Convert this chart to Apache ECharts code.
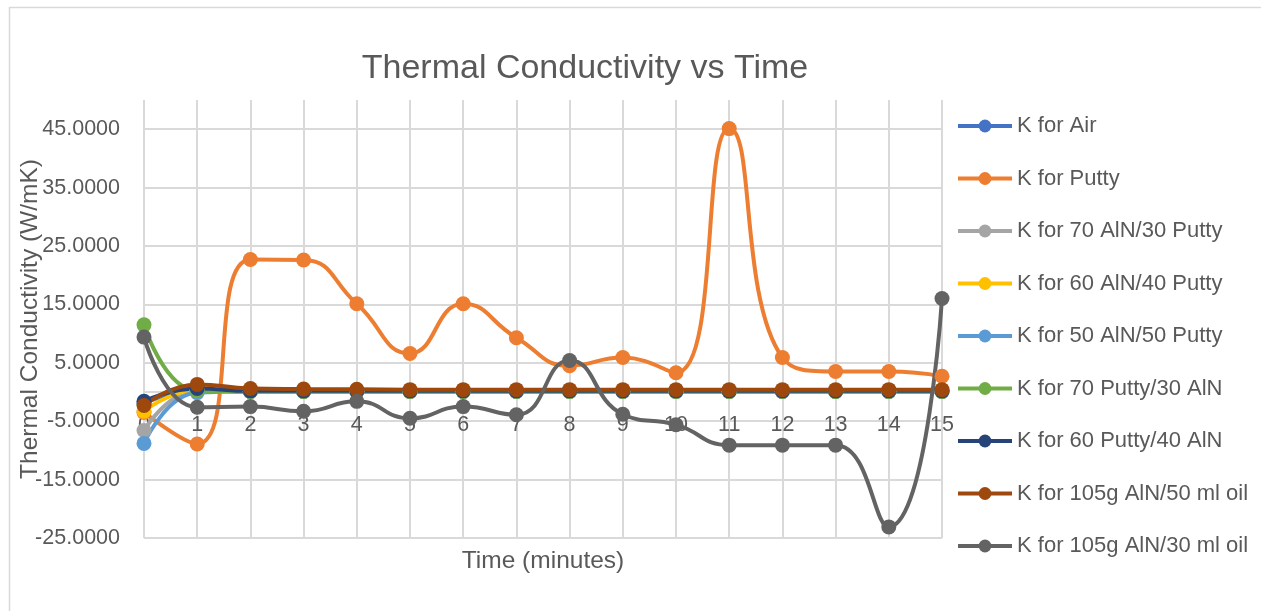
<!DOCTYPE html>
<html>
<head>
<meta charset="utf-8">
<script src="https://cdn.jsdelivr.net/npm/echarts@6/dist/echarts.min.js"></script>
<style>
html,body{margin:0;padding:0;background:#fff;}
#chart{width:1261px;height:611px;}
</style>
</head>
<body>
<div id="chart"></div>
<script>
// ---- data ----
const times = ['0','1','2','3','4','5','6','7','8','9','10','11','12','13','14','15'];
const seriesNames = ['K for Air','K for Putty','K for 70 AlN/30 Putty','K for 60 AlN/40 Putty','K for 50 AlN/50 Putty','K for 70 Putty/30 AlN','K for 60 Putty/40 AlN','K for 105g AlN/50 ml oil','K for 105g AlN/30 ml oil'];
const kAir      = [-2.0, 0.3, 0.1, 0.1, 0.1, 0.1, 0.1, 0.1, 0.1, 0.1, 0.1, 0.1, 0.1, 0.1, 0.1, 0.1];
const kPutty    = [-3.5, -8.9, 22.7, 22.6, 15.1, 6.6, 15.1, 9.3, 4.5, 5.9, 3.3, 45.1, 5.9, 3.5, 3.5, 2.7];
const k70AlN    = [-6.6, 0.2, 0.1, 0.1, 0.1, 0.1, 0.1, 0.1, 0.1, 0.1, 0.1, 0.1, 0.1, 0.1, 0.1, 0.1];
const k60AlN    = [-3.3, 0.3, 0.1, 0.1, 0.1, 0.1, 0.1, 0.1, 0.1, 0.1, 0.1, 0.1, 0.1, 0.1, 0.1, 0.1];
const k50AlN    = [-8.8, -0.1, 0.1, 0.1, 0.1, 0.1, 0.1, 0.1, 0.1, 0.1, 0.1, 0.1, 0.1, 0.1, 0.1, 0.1];
const k70Putty  = [11.5, 0.2, 0.1, 0.1, 0.1, 0.1, 0.1, 0.1, 0.1, 0.1, 0.1, 0.1, 0.1, 0.1, 0.1, 0.1];
const k60Putty  = [-1.6, 0.6, 0.2, 0.2, 0.2, 0.2, 0.2, 0.2, 0.2, 0.2, 0.2, 0.2, 0.2, 0.2, 0.2, 0.2];
const kOil50    = [-2.3, 1.3, 0.6, 0.5, 0.45, 0.4, 0.4, 0.4, 0.4, 0.4, 0.4, 0.4, 0.4, 0.4, 0.4, 0.4];
const kOil30    = [9.4, -2.6, -2.5, -3.3, -1.6, -4.5, -2.5, -3.9, 5.4, -3.8, -5.6, -9.1, -9.1, -9.1, -23.1, 16.0];
const yTickLabels = ['-25.0000','-15.0000','-5.0000','5.0000','15.0000','25.0000','35.0000','45.0000'];

const allData = [kAir, kPutty, k70AlN, k60AlN, k50AlN, k70Putty, k60Putty, kOil50, kOil30];
const colors = ['#4472C4','#ED7D31','#A5A5A5','#FFC000','#5B9BD5','#70AD47','#264478','#9E480E','#636363'];

const FONT = 'Liberation Sans';
const TXT = '#595959';
const GRID = '#d9d9d9';

// layout of the plot area (pixels)
const G_TOP = 100, G_BOTTOM = 73, Y_MIN = -25, Y_MAX = 50;
const plotH = 611 - G_TOP - G_BOTTOM;
const zeroFromBottom = plotH * (0 - Y_MIN) / (Y_MAX - Y_MIN);

const chart = echarts.init(document.getElementById('chart'), null, {renderer: 'canvas', devicePixelRatio: 1});

const option = {
  animation: false,
  backgroundColor: '#ffffff',
  color: colors,
  textStyle: {fontFamily: FONT},
  title: {
    text: 'Thermal Conductivity vs Time',
    left: 580, top: 47, textAlign: 'center',
    textStyle: {fontFamily: FONT, fontSize: 34, fontWeight: 'normal', color: TXT}
  },
  graphic: [{
    type: 'rect', left: 7, top: 5, z: -10,
    shape: {width: 1270, height: 620},
    style: {fill: 'none', stroke: '#d9d9d9', lineWidth: 1.5}
  }],
  legend: {
    orient: 'vertical', left: 956, top: 114, padding: 0,
    itemWidth: 54, itemHeight: 16, itemGap: 28.5,
    lineStyle: {width: 4},
    textStyle: {fontFamily: FONT, fontSize: 22, color: TXT, lineHeight: 24},
    data: seriesNames
  },
  grid: {left: 144, right: 319, top: G_TOP, bottom: G_BOTTOM, containLabel: false, outerBoundsMode: 'none'},
  xAxis: {
    type: 'category', data: times, boundaryGap: false,
    offset: -zeroFromBottom,
    name: 'Time (minutes)', nameLocation: 'middle', nameGap: 157, nameMoveOverlap: false,
    nameTextStyle: {fontFamily: FONT, fontSize: 24.5, color: TXT},
    axisLine: {show: true, onZero: false, lineStyle: {color: GRID, width: 2}},
    axisTick: {show: false},
    axisLabel: {fontFamily: FONT, fontSize: 21.5, color: TXT, margin: 22, interval: 0},
    splitLine: {show: true, lineStyle: {color: GRID, width: 2}}
  },
  yAxis: {
    type: 'value', min: Y_MIN, max: Y_MAX, interval: 5,
    name: 'Thermal Conductivity (W/mK)', nameLocation: 'middle', nameGap: 101, nameRotate: 90,
    nameMoveOverlap: false,
    nameTextStyle: {fontFamily: FONT, fontSize: 24.5, color: TXT},
    axisLine: {show: false},
    axisTick: {show: false},
    axisLabel: {
      fontFamily: FONT, fontSize: 21.5, color: TXT, margin: 24,
      formatter: function (v) {
        const idx = Math.round((v + 25) / 10);
        if (Math.abs(v + 25 - idx * 10) < 1e-6 && idx < yTickLabels.length) return yTickLabels[idx];
        return '';
      }
    },
    splitLine: {show: true, lineStyle: {color: [GRID, 'rgba(0,0,0,0)'], width: 2}}
  },
  series: seriesNames.map((n, i) => ({
    name: n, type: 'line', data: allData[i], smooth: 0.5,
    symbol: 'circle', symbolSize: 15, showSymbol: true,
    lineStyle: {width: 4, color: colors[i]},
    itemStyle: {color: colors[i]}
  }))
};
chart.setOption(option);
</script>
</body>
</html>
